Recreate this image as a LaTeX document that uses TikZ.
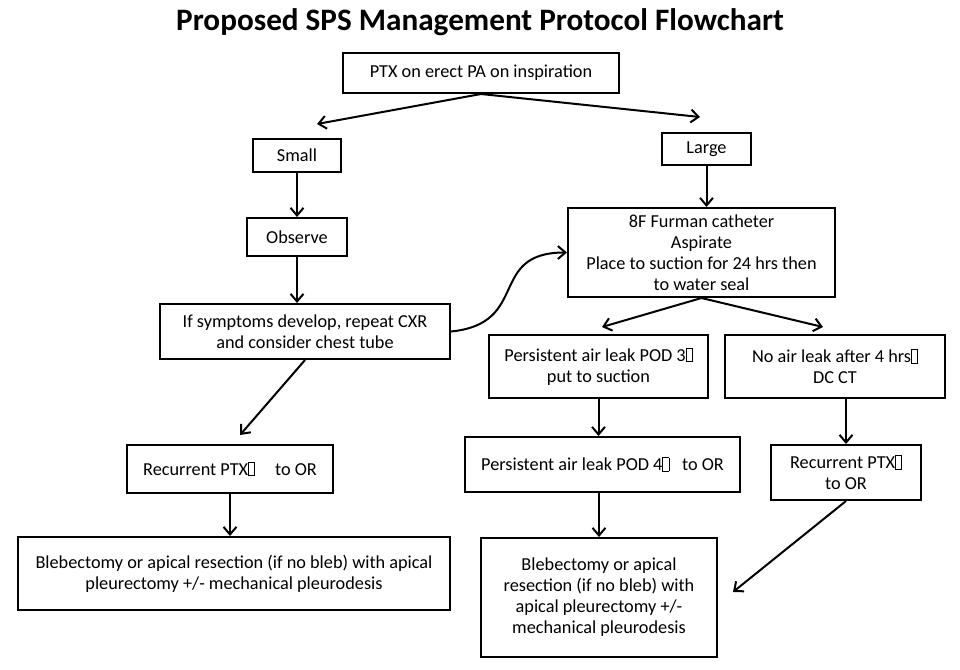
\documentclass[tikz,border=0pt]{standalone}
\usepackage{fontspec}
\setmainfont{Carlito}
\usetikzlibrary{arrows.meta, positioning}

\newcommand{\nog}{{\fboxsep=0pt\fboxrule=0.5pt\fbox{\rule{0pt}{0.7em}\hspace{0.3em}}}}

\begin{document}
\begin{tikzpicture}[
    x=0.75pt, y=-0.75pt,
    box/.style 2 args = {draw, line width=1.5pt, align=center, inner sep=2pt,
                   font=\fontsize{13.7}{15.8}\selectfont,
                   minimum width=#1*0.75pt, minimum height=#2*0.75pt},
    arr/.style  = {-{Straight Barb[length=2mm, width=3.4mm]}, line width=1.5pt},
    ttl/.style  = {font=\fontsize{23.4}{28}\selectfont\bfseries},
]
\useasboundingbox (0,0) rectangle (960,669);

% Title
\node[ttl] (title) at (480,22) {Proposed SPS Management Protocol Flowchart};

% Entry
\node[box={276}{40}] (ptx)   at (481,73)    {PTX on erect PA on inspiration};
\node[box={88}{33}]  (small) at (297,155.5) {Small};
\node[box={89}{32}]  (large) at (706.5,149) {Large};

\coordinate (smallIn) at (317,124);
\coordinate (largeIn) at (700,117);
\draw[arr] (ptx.south) -- (smallIn);
\draw[arr] (ptx.south) -- (largeIn);

% Small branch (left column)
\node[box={100}{38}] (observe) at (297,237)   {Observe};
\node[box={290}{55}] (sym)     at (305,331.5) {If symptoms develop, repeat CXR\\and consider chest tube};
\node[box={206}{48}] (recL)    at (230,469)   {Recurrent PTX\nog\hspace{1.1em}to OR};
\node[box={432}{73}] (blebL)   at (234,573.5) {Blebectomy or apical resection (if no bleb) with apical\\pleurectomy +/- mechanical pleurodesis};

\coordinate (recLIn) at (240,435);
\draw[arr] (small.south)   -- (observe.north);
\draw[arr] (observe.south) -- (observe.south |- sym.north);
\draw[arr] (sym.south)     -- (recLIn);
\draw[arr] (recL.south)    -- (recL.south |- blebL.north);

% Large branch (right columns)
\node[box={267}{89}]  (furman) at (701.5,252.5) {8F Furman catheter\\Aspirate\\Place to suction for 24 hrs then\\to water seal};
\node[box={219}{63}]  (pod3)   at (598.5,366.5) {Persistent air leak POD 3\nog\\put to suction};
\node[box={220}{63}]  (noair)  at (835,366.5)   {No air leak after 4 hrs\nog\\DC CT};
\node[box={275}{55}]  (pod4)   at (602.5,464.5) {Persistent air leak POD 4\nog\hspace{0.7em}to OR};
\node[box={150}{55}]  (recR)   at (846,472.5)   {Recurrent PTX\nog\\to OR};
\node[box={236}{119}] (blebR)  at (599,597.5)   {Blebectomy or apical\\resection (if no bleb) with\\apical pleurectomy +/-\\mechanical pleurodesis};

\coordinate (pod3In)  at (602,327);
\coordinate (noairIn) at (823,327);
\coordinate (blebRIn) at (733,592);
\draw[arr] (large.south)  -- (large.south |- furman.north);
\draw[arr] (furman.south) -- (pod3In);
\draw[arr] (furman.south) -- (noairIn);
\draw[arr] (pod3.south)   -- (pod3.south |- pod4.north);
\draw[arr] (blebR.north |- pod4.south) -- (blebR.north);
\draw[arr] (recR.north |- noair.south) -- (recR.north);
\draw[arr] (recR.south)   -- (blebRIn);

% Crossover: left branch back to catheter
\draw[arr] (sym.east) .. controls +(80,-8) and +(-80,0) .. (furman.west);

\end{tikzpicture}
\end{document}
